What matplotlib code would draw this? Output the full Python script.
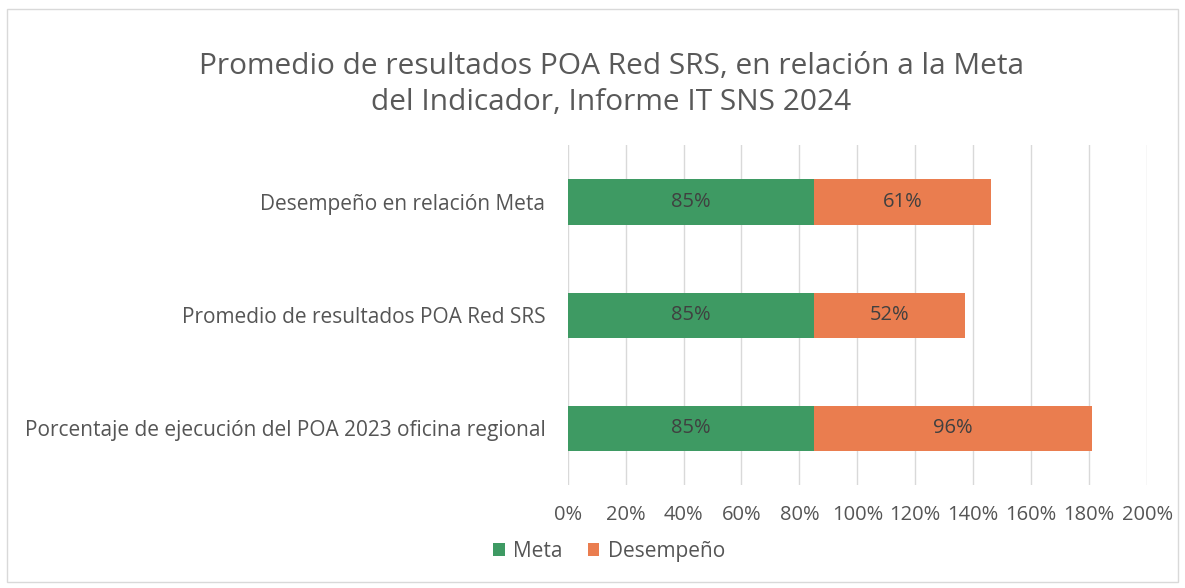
import matplotlib
matplotlib.use("Agg")
import matplotlib.pyplot as plt
from matplotlib.patches import Rectangle
from matplotlib.ticker import PercentFormatter, MultipleLocator

categories = ["Porcentaje de ejecución del POA 2023 oficina regional",
              "Promedio de resultados POA Red SRS",
              "Desempeño en relación Meta"]
meta = [85, 85, 85]
desempeno = [96, 52, 61]
title = "Promedio de resultados POA Red SRS, en relación a la Meta\ndel Indicador, Informe IT SNS 2024"

plt.rcParams['font.family'] = ['Open Sans', 'DejaVu Sans']
GREEN = "#3e9a63"
ORANGE = "#ea7d4f"
TXT = "#555555"

fig = plt.figure(figsize=(11.85, 5.88), dpi=100)
fig.patch.set_facecolor("white")
ax = fig.add_axes([0.479, 0.175, 0.489, 0.578])

y = range(len(categories))
ax.barh(y, meta, height=0.4, color=GREEN, label="Meta")
ax.barh(y, desempeno, left=meta, height=0.4, color=ORANGE, label="Desempeño")
for i in y:
    ax.text(meta[i] / 2, i, f"{meta[i]}%", ha="center", va="center", fontsize=14.5, color="#404040")
    ax.text(meta[i] + desempeno[i] / 2, i, f"{desempeno[i]}%", ha="center", va="center", fontsize=14.5, color="#404040")

ax.set_xlim(0, 200)
ax.set_ylim(-0.5, 2.5)
ax.xaxis.set_major_locator(MultipleLocator(20))
ax.xaxis.set_major_formatter(PercentFormatter(decimals=0))
ax.set_yticks(list(y))
ax.set_yticklabels(categories, fontsize=15, color=TXT)
ax.tick_params(axis="x", labelsize=14.5, colors=TXT, length=0, pad=14)
ax.tick_params(axis="y", length=0, pad=16)
ax.grid(axis="x", color="#d9d9d9", linewidth=1)
ax.set_axisbelow(True)
for s in ax.spines.values():
    s.set_visible(False)

fig.text(0.516, 0.857, title, ha="center", va="center", fontsize=21.5, color="#595959", linespacing=1.32)

leg = fig.legend(loc="center", bbox_to_anchor=(0.514, 0.062), ncol=2, frameon=False,
                 fontsize=15, handlelength=0.55, handleheight=0.55, handletextpad=0.4, columnspacing=1.2)
for t in leg.get_texts():
    t.set_color(TXT)

fig.patches.append(Rectangle((0.006, 0.01), 0.988, 0.975, transform=fig.transFigure,
                             fill=False, edgecolor="#d9d9d9", linewidth=1))

fig.savefig("out.png", dpi=100)
